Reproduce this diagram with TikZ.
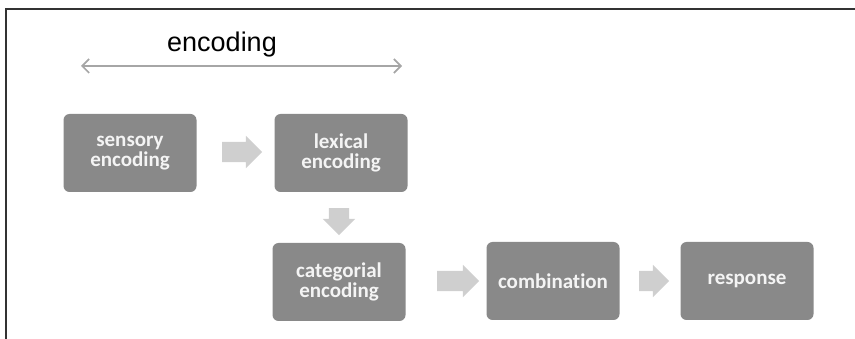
\documentclass[tikz,border=0pt]{standalone}
\usepackage{fontspec}
\setmainfont{Carlito}[Ligatures=NoCommon]
\newfontfamily\titlefont{Liberation Sans}
\usetikzlibrary{shapes.arrows,arrows.meta}

\definecolor{boxgray}{HTML}{898989}
\definecolor{boxtext}{HTML}{F4F4F4}
\definecolor{arrowgray}{HTML}{CFCFCF}
\definecolor{spangray}{HTML}{A6A6A6}

\tikzstyle{stage}=[rectangle, rounded corners=6pt, fill=boxgray, text=boxtext, minimum width=133pt, minimum height=78pt, inner sep=0pt, align=center, font=\bfseries\fontsize{21}{20}\selectfont]
\tikzstyle{blockarrow}=[single arrow, fill=arrowgray, inner xsep=0pt, inner ysep=10pt, single arrow head extend=6pt, single arrow tip angle=90]
\tikzstyle{span}=[{Straight Barb[length=7pt,width=14pt]}-{Straight Barb[length=7pt,width=14pt]}, draw=spangray, line width=1.6pt]

\begin{document}
\begin{tikzpicture}[x=1pt, y=-1pt]
\useasboundingbox (0,0) rectangle (855,339);
% frame, top and left only
\draw[line width=2pt, black!80] (855,9) -- (6,9) -- (6,339);
\node[font=\titlefont\fontsize{27}{30}\selectfont] (T) at (222,45) {encoding};
\coordinate (encL) at (81,66);
\coordinate (encR) at (402,66);
\draw[span] (encL) -- (encR);
\node[stage] (S) at (130,153) {sensory\\encoding};
\node[stage] (L) at (341,153) {lexical\\encoding};
\node[stage] (C) at (339,282) {categorial\\encoding};
\node[stage] (M) at (553,281) {combination};
\node[stage] (R) at (747,281) {response};
% block arrows between the stages
\node[blockarrow, minimum height=40pt] (SL) at (237,152) {};
\node[blockarrow, minimum height=27pt, rotate=-90] (LC) at (339,216.5) {};
\node[blockarrow, minimum height=42pt] (CM) at (453,281) {};
\node[blockarrow, minimum height=30pt] (MR) at (649,281) {};
\end{tikzpicture}
\end{document}
